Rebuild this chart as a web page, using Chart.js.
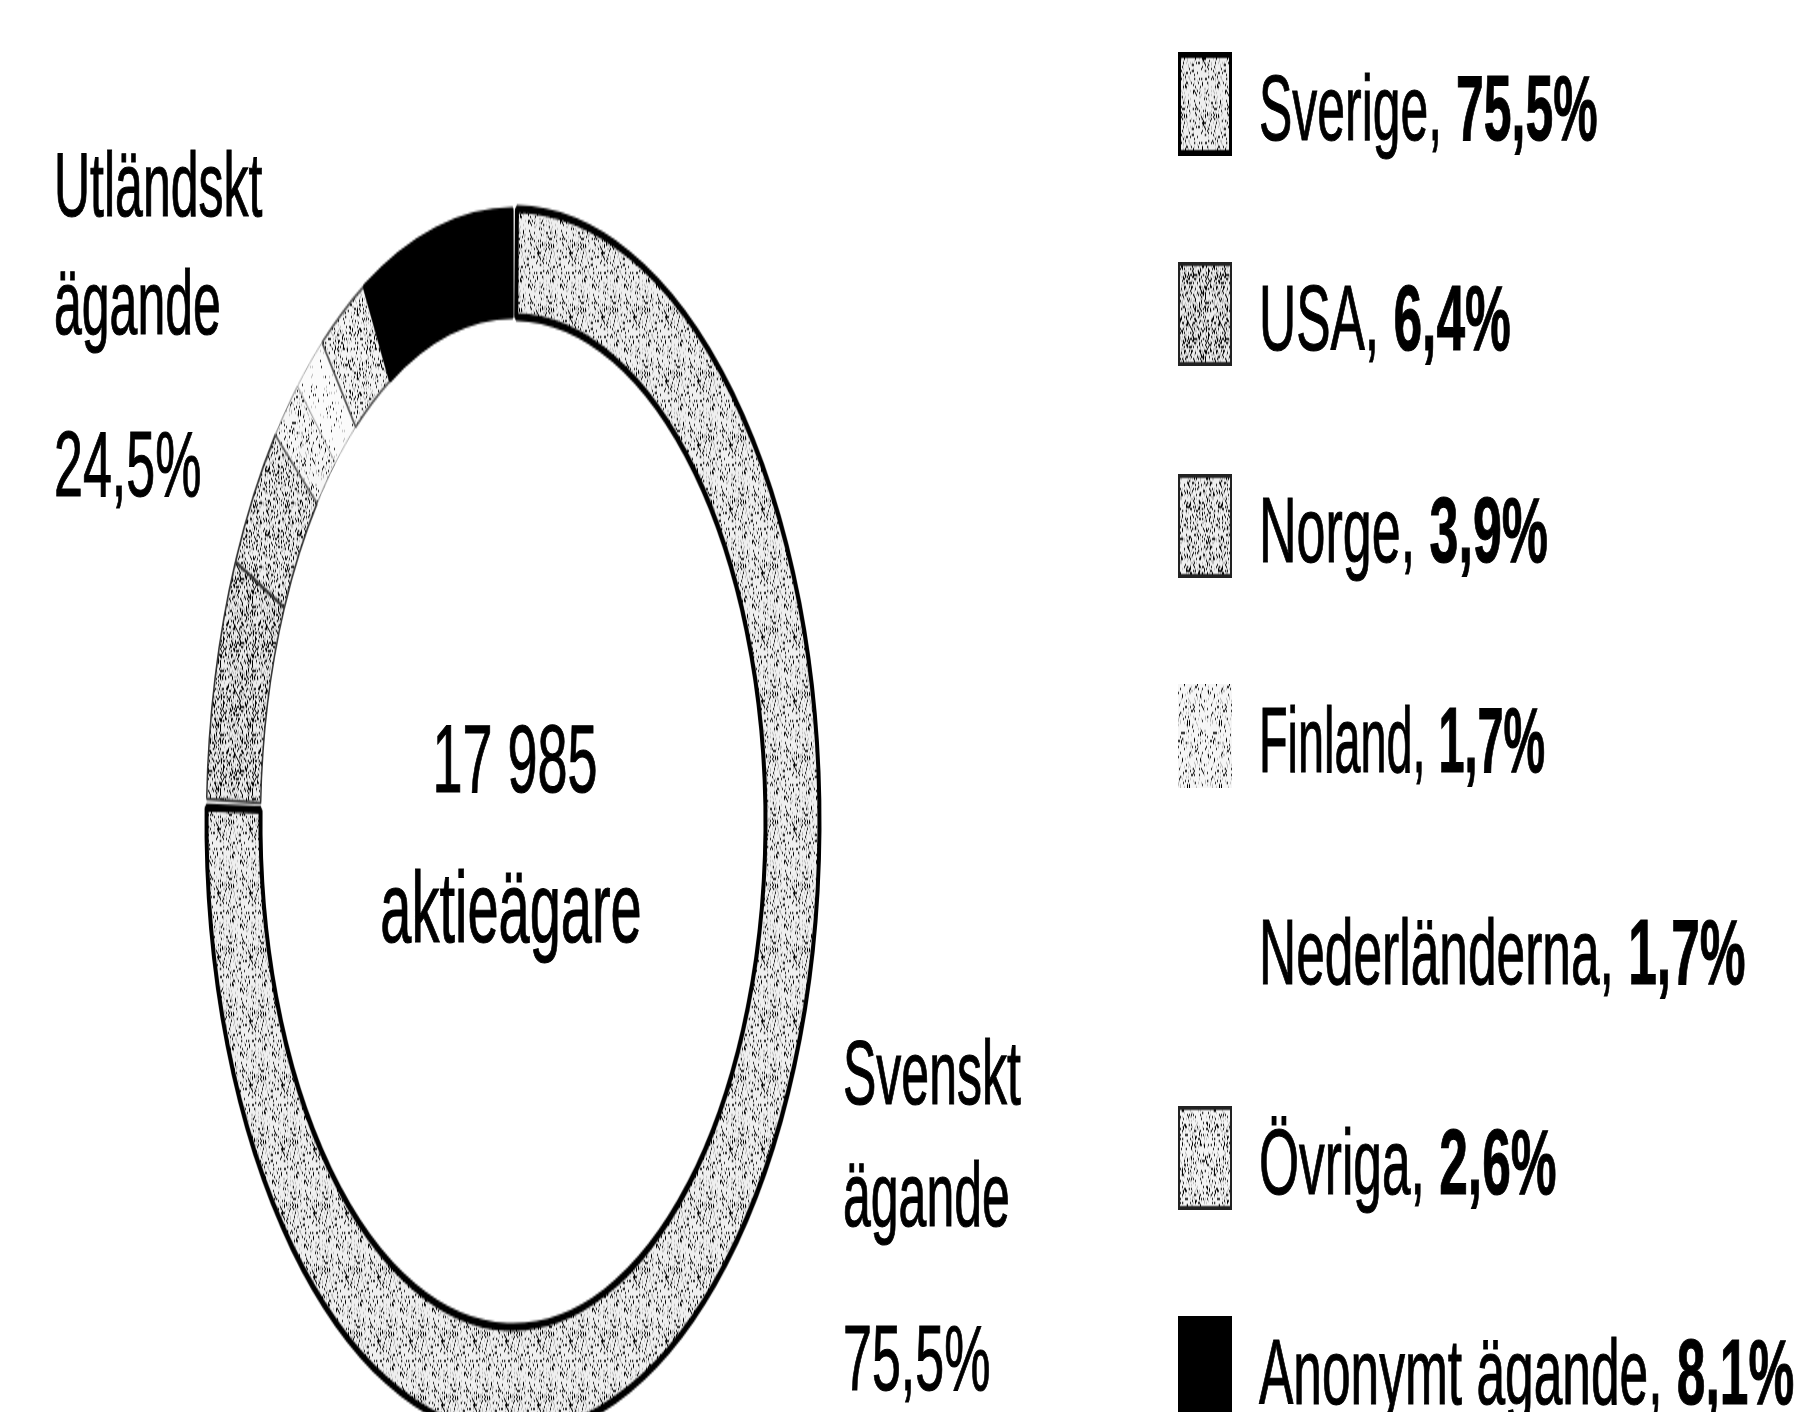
<!DOCTYPE html>
<html lang="sv">
<head>
<meta charset="utf-8">
<title>Aktieägare</title>
<script src="https://cdn.jsdelivr.net/npm/chart.js@4/dist/chart.umd.min.js"></script>
<style>
  html, body { margin: 0; padding: 0; background: #fff; }
  #frame { position: relative; width: 1799px; height: 1412px; overflow: hidden; }
  /* everything is laid out at half height and stretched 2x vertically */
  #stage {
    position: absolute; left: 0; top: 0; width: 1799px; height: 706px;
    transform: scaleY(2); transform-origin: 0 0;
    font-family: "Liberation Sans", Arial, sans-serif; color: #000;
  }
  #ring { position: absolute; left: 193px; top: 91px; }
  .txt {
    position: absolute; white-space: nowrap; line-height: 1;
    -webkit-text-stroke: 0.6px #000;
  }
  .txt b { font-weight: bold; }
  .swatch { position: absolute; left: 1178px; }
</style>
</head>
<body>
<div id="frame">
  <div id="stage">
    <canvas id="ring" width="640" height="640"></canvas>
  </div>
</div>
<script>
const countries = ["Sverige", "USA", "Norge", "Finland", "Nederländerna", "Övriga", "Anonymt ägande"];
const shares = [75.5, 6.4, 3.9, 1.7, 1.7, 2.6, 8.1];

const groupLabels = [["Utländskt", "ägande"], ["Svenskt", "ägande"]];
const groupShares = [24.5, 75.5];

const shareholders = 17985;
const centerCaption = "aktieägare";

const stage = document.getElementById("stage");
const fmtPct = (v) => v.toFixed(1).replace(".", ",") + "%";
const fmtInt = (v) => String(v).replace(/\B(?=(\d{3})+(?!\d))/g, " ");

// speckled fill, deterministic so the texture is the same every render
function grain(density, bg, seed) {
  const tile = document.createElement("canvas");
  tile.width = tile.height = 32;
  const g = tile.getContext("2d");
  g.fillStyle = bg;
  g.fillRect(0, 0, 32, 32);
  let h = seed >>> 0;
  for (let y = 0; y < 32; y++) {
    for (let x = 0; x < 32; x++) {
      h = (Math.imul(h, 1664525) + 1013904223) >>> 0;
      const v = (h >>> 16) / 65536;
      if (v < density) {
        g.fillStyle = "#000";
        g.fillRect(x, y, 1, 1);
      } else if (v < density * 2.2) {
        g.fillStyle = "#b8b8b8";
        g.fillRect(x, y, 1, 1);
      }
    }
  }
  return g.createPattern(tile, "repeat");
}

const fills = [
  grain(0.12, "#efefef", 11),
  grain(0.2, "#ececec", 23),
  grain(0.16, "#efefef", 37),
  grain(0.08, "#f6f6f6", 41),
  grain(0.03, "#fbfbfb", 53),
  grain(0.1, "#f4f4f4", 67),
  "#000",
];
const edges = ["#000", "#333", "#333", "#777", "#aaa", "#555", "#000"];
const edgeWidths = [4, 1.5, 1.5, 1, 1, 1.5, 2];

new Chart(document.getElementById("ring"), {
  type: "doughnut",
  data: {
    labels: countries,
    datasets: [
      {
        data: shares,
        backgroundColor: fills,
        borderColor: edges,
        borderWidth: edgeWidths,
        spacing: 3,
      },
    ],
  },
  options: {
    responsive: false,
    animation: false,
    events: [],
    radius: 305,
    cutout: "82.3%",
    plugins: { legend: { display: false }, tooltip: { enabled: false } },
  },
});

// text helper: x = left edge (or centre), baseline in stage units;
// glyphs are squashed a little about the baseline
function place(html, x, baseline, size, opts = {}) {
  const el = document.createElement("div");
  el.className = "txt";
  el.innerHTML = html;
  el.style.fontSize = size + "px";
  el.style.top = (baseline - 0.8465 * size) + "px";
  const base = (0.8465 * size).toFixed(2) + "px";
  if (opts.center) {
    el.style.left = (x - 250) + "px";
    el.style.width = "500px";
    el.style.textAlign = "center";
    el.style.transformOrigin = `50% ${base}`;
  } else {
    el.style.left = x + "px";
    el.style.transformOrigin = `0 ${base}`;
  }
  el.style.transform = `scale(${opts.squeeze || 1}, 0.9)`;
  stage.appendChild(el);
  return el;
}

// centre of the ring
place(fmtInt(shareholders), 515, 396, 54, { center: true });
place(centerCaption, 511, 471, 56, { center: true });

// group labels beside the ring
place(groupLabels[0][0], 54, 108, 50);
place(groupLabels[0][1], 54, 167, 50);
place(fmtPct(groupShares[0]), 54, 248, 52);
place(groupLabels[1][0], 843, 552, 50);
place(groupLabels[1][1], 843, 613, 50);
place(fmtPct(groupShares[1]), 843, 695, 52);

// legend column
const legendSqueeze = [0.96, 0.99, 1, 0.9, 0.99, 0.99, 0.99];
const swatchEdge = ["#000", "#222", "#222", null, null, "#222", "#000"];
countries.forEach((name, i) => {
  const baseline = 70 + i * 105.4;
  place(`${name}, <b>${fmtPct(shares[i])}</b>`, 1259, baseline, 52, { squeeze: legendSqueeze[i] });

  const sw = document.createElement("canvas");
  sw.className = "swatch";
  sw.width = 54;
  sw.height = 52;
  sw.style.top = (baseline - 44) + "px";
  const g = sw.getContext("2d");
  if (i !== 4) {
    g.fillStyle = fills[i];
    g.fillRect(0, 0, 54, 52);
  }
  if (swatchEdge[i]) {
    g.strokeStyle = swatchEdge[i];
    g.lineWidth = i === 0 ? 4 : 2;
    g.strokeRect(1, 1, 52, 50);
  }
  stage.appendChild(sw);
});
</script>
</body>
</html>
